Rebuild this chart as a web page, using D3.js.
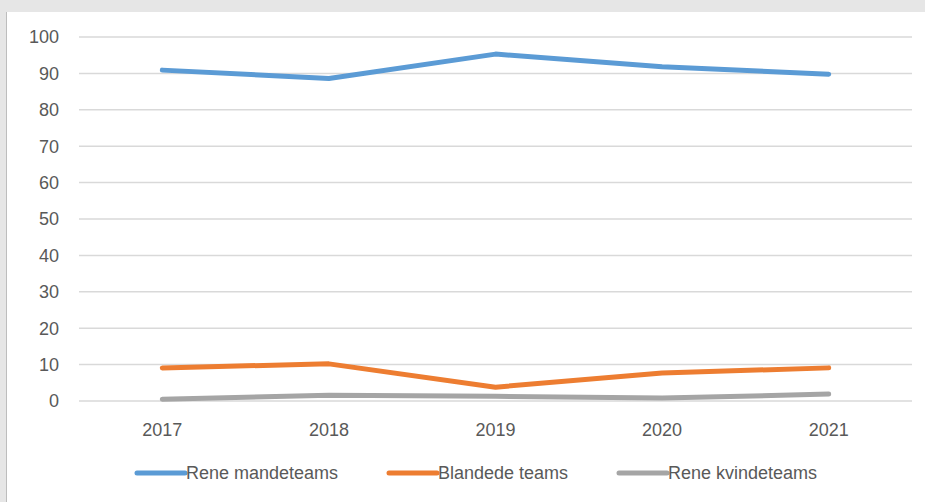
<!DOCTYPE html>
<meta charset="utf-8">
<script src="https://d3js.org/d3.v7.min.js"></script>
<style>
  body { margin: 0; background: #e6e6e6; }
  text { font-family: "Liberation Sans", Arial, sans-serif; fill: #595959; }
</style>
<div id="chart"></div>
<script>
// data
var years = ["2017", "2018", "2019", "2020", "2021"];
var mande = [90.9, 88.6, 95.3, 91.8, 89.8];
var blandede = [9.1, 10.2, 3.8, 7.7, 9.1];
var kvinde = [0.5, 1.6, 1.3, 0.8, 1.9];
var yTicks = [0, 10, 20, 30, 40, 50, 60, 70, 80, 90, 100];

var series = [
  {name: "Rene mandeteams", values: mande, color: "#5b9bd5"},
  {name: "Blandede teams", values: blandede, color: "#ed7d31"},
  {name: "Rene kvindeteams", values: kvinde, color: "#a5a5a5"}
];

var W = 925, H = 502;
var svg = d3.select("#chart").append("svg")
  .attr("width", W).attr("height", H);

// white panel with thin left border
svg.append("rect").attr("x", 6).attr("y", 12).attr("width", W - 6).attr("height", H - 12)
  .attr("fill", "white");
svg.append("line").attr("x1", 6.5).attr("x2", 6.5).attr("y1", 12).attr("y2", H)
  .attr("stroke", "#bdbdbd").attr("stroke-width", 1);

var x = d3.scaleBand().domain(years).range([79, 912]);
var y = d3.scaleLinear().domain([0, 100]).range([401, 37]);

// gridlines
svg.append("g").selectAll("line").data(yTicks).enter().append("line")
  .attr("x1", 79).attr("x2", 912)
  .attr("y1", function(d) { return y(d); })
  .attr("y2", function(d) { return y(d); })
  .attr("stroke", "#d9d9d9").attr("stroke-width", 1.5);

// y axis labels
svg.append("g").selectAll("text").data(yTicks).enter().append("text")
  .attr("x", 59).attr("y", function(d) { return y(d); })
  .attr("dy", "0.35em").attr("text-anchor", "end")
  .style("font-size", "18px")
  .text(function(d) { return d; });

// x axis labels
svg.append("g").selectAll("text").data(years).enter().append("text")
  .attr("x", function(d) { return x(d) + x.bandwidth() / 2; })
  .attr("y", 436).attr("text-anchor", "middle")
  .style("font-size", "18px")
  .text(function(d) { return d; });

// lines
var line = d3.line()
  .x(function(d, i) { return x(years[i]) + x.bandwidth() / 2; })
  .y(function(d) { return y(d); });

svg.append("g").selectAll("path").data(series).enter().append("path")
  .attr("d", function(d) { return line(d.values); })
  .attr("fill", "none")
  .attr("stroke", function(d) { return d.color; })
  .attr("stroke-width", 5)
  .attr("stroke-linejoin", "round")
  .attr("stroke-linecap", "round");

// legend
var legendX = [137, 389, 619];
var lg = svg.append("g").selectAll("g").data(series).enter().append("g")
  .attr("transform", function(d, i) { return "translate(" + legendX[i] + ",473)"; });
lg.append("line").attr("x1", 0).attr("x2", 48).attr("y1", 0).attr("y2", 0)
  .attr("stroke", function(d) { return d.color; })
  .attr("stroke-width", 5).attr("stroke-linecap", "round");
lg.append("text").attr("x", 49).attr("dy", "0.35em")
  .style("font-size", "18px")
  .text(function(d) { return d.name; });
</script>
